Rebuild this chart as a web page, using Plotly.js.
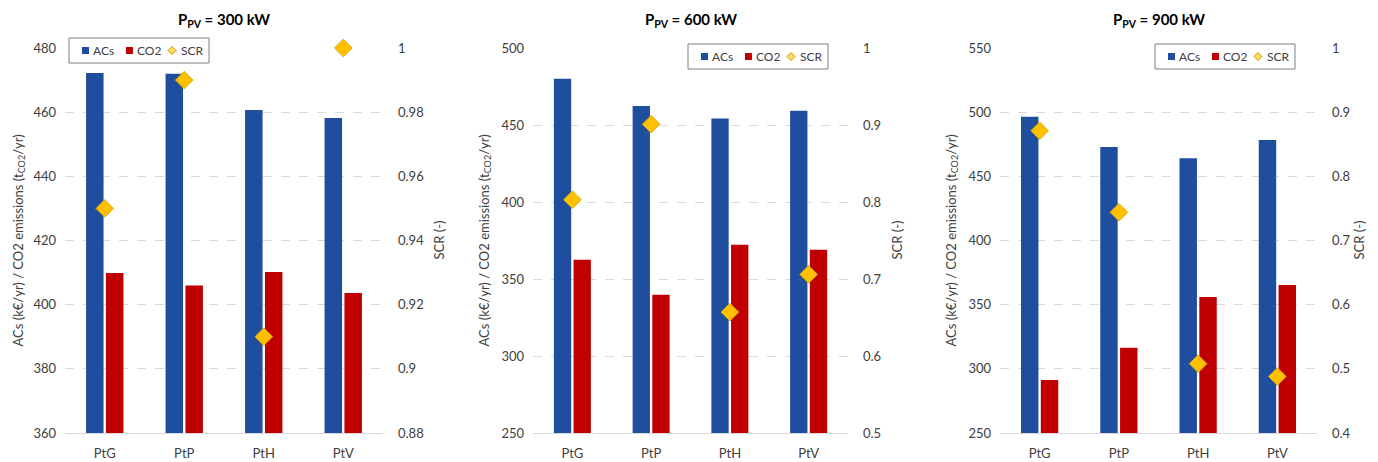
<!DOCTYPE html>
<html>
<head>
<meta charset="utf-8">
<script src="https://cdn.plot.ly/plotly-3.0.1.min.js"></script>
<style>
html,body{margin:0;padding:0;background:#fff;}
#chart{width:1378px;height:462px;}
</style>
</head>
<body>
<div id="chart"></div>
<script>
// ---- data ----
const categories = ["PtG", "PtP", "PtH", "PtV"];
const panelTitles = ["P<sub>PV</sub> = 300 kW", "P<sub>PV</sub> = 600 kW", "P<sub>PV</sub> = 900 kW"];

const acs300 = [472.2, 472.0, 460.7, 458.2];
const co2_300 = [409.9, 406.0, 410.2, 403.6];
const scr300 = [0.950, 0.990, 0.910, 1.000];

const acs600 = [480.0, 462.3, 454.2, 459.3];
const co2_600 = [362.5, 339.8, 372.3, 369.0];
const scr600 = [0.803, 0.901, 0.657, 0.706];

const acs900 = [496.4, 472.8, 464.0, 478.4];
const co2_900 = [291.3, 316.4, 355.9, 365.3];
const scr900 = [0.871, 0.744, 0.508, 0.488];

const leftRanges = [[360, 480], [250, 500], [250, 550]];
const leftDticks = [20, 50, 50];
const rightRanges = [[0.88, 1], [0.5, 1], [0.4, 1]];
const rightDticks = [0.02, 0.1, 0.1];

const legendNames = ["ACs", "CO2", "SCR"];
const leftTitle = "ACs (k€/yr) / CO2 emissions (t<sub>CO2</sub>/yr)";
const rightTitle = "SCR (-)";

// ---- style ----
const W = 1378, H = 462;
const BLUE = "#1F4E9E", RED = "#C00000", GOLD = "#FFC000";
const FONT = "Lato, 'Open Sans', sans-serif";
const TXT = "#404040";
const plotPx = [[65, 383], [533, 848], [1000, 1317]];
const yTop = 48, yBot = 433;
const legendPx = [[69, 38], [688, 44], [1155, 44]];
const legendW = 140, legendH = 25;
const leftTitlePx = [18, 484, 951];
const rightTitlePx = [438, 896, 1358];

const acsAll = [acs300, acs600, acs900];
const co2All = [co2_300, co2_600, co2_900];
const scrAll = [scr300, scr600, scr900];

const data = [];
const layout = {
  width: W, height: H,
  margin: {l: 0, r: 0, t: 0, b: 0},
  paper_bgcolor: "#fff", plot_bgcolor: "rgba(0,0,0,0)",
  font: {family: FONT, size: 13, color: TXT},
  barmode: "group", bargap: 0.5, bargroupgap: 0.12,
  showlegend: false,
  annotations: [], shapes: []
};
const yd = [(H - yBot) / H, (H - yTop) / H];
const px = v => v / W;
const py = v => (H - v) / H;

for (let i = 0; i < 3; i++) {
  const n = i === 0 ? "" : String(i + 1);
  const xa = "x" + n;
  const yl = "y" + (i === 0 ? "" : String(2 * i + 1));
  const yr = "y" + String(2 * i + 2);
  data.push({type: "bar", x: categories, y: acsAll[i], name: legendNames[0], xaxis: xa, yaxis: yl,
    marker: {color: BLUE}, offsetgroup: "a"});
  data.push({type: "bar", x: categories, y: co2All[i], name: legendNames[1], xaxis: xa, yaxis: yl,
    marker: {color: RED}, offsetgroup: "b"});
  data.push({type: "scatter", mode: "markers", x: categories, y: scrAll[i], name: legendNames[2],
    xaxis: xa, yaxis: yr, cliponaxis: false,
    marker: {symbol: "diamond", size: 13.5, color: GOLD, line: {color: "#E0A800", width: 1}}});

  const xd = [plotPx[i][0] / W, plotPx[i][1] / W];
  layout["xaxis" + n] = {domain: xd, anchor: yl, showgrid: false, showline: true,
    linecolor: "#D9D9D9", linewidth: 1, ticks: "", ticklabelstandoff: 8,
    tickfont: {size: 13, color: TXT}, fixedrange: true};
  layout["yaxis" + (i === 0 ? "" : String(2 * i + 1))] = {
    domain: yd, anchor: xa, range: leftRanges[i], dtick: leftDticks[i], tick0: leftRanges[i][0],
    showgrid: true, gridcolor: "#D9D9D9", griddash: "dash", gridwidth: 1,
    zeroline: false, showline: false, ticks: "", ticklabelstandoff: 8,
    tickfont: {size: 13, color: TXT}};
  layout["yaxis" + String(2 * i + 2)] = {
    domain: yd, anchor: xa, overlaying: yl, side: "right",
    range: rightRanges[i], dtick: rightDticks[i], tick0: rightRanges[i][0],
    showgrid: false, zeroline: false, showline: false, ticks: "", ticklabelstandoff: 14,
    tickfont: {size: 13, color: TXT}};

  // custom legend box
  const lx = legendPx[i][0], ly = legendPx[i][1];
  const cy = ly + legendH / 2;
  layout.shapes.push({type: "rect", xref: "paper", yref: "paper",
    x0: px(lx), x1: px(lx + legendW), y0: py(ly + legendH), y1: py(ly),
    fillcolor: "#fff", line: {color: "#7F7F7F", width: 1}, layer: "above"});
  const sqOff = [13, 57], txtOff = [22, 66, 110];
  [BLUE, RED].forEach((c, k) => {
    layout.shapes.push({type: "rect", xref: "paper", yref: "paper",
      x0: px(lx + sqOff[k]), x1: px(lx + sqOff[k] + 7), y0: py(cy + 3.5), y1: py(cy - 3.5),
      fillcolor: c, line: {width: 0}, layer: "above"});
  });
  const dx = lx + 103, d = 4;
  layout.shapes.push({type: "path", xref: "paper", yref: "paper",
    path: `M ${px(dx - d)} ${py(cy)} L ${px(dx)} ${py(cy - d)} L ${px(dx + d)} ${py(cy)} L ${px(dx)} ${py(cy + d)} Z`,
    fillcolor: "#FFD966", line: {color: "#C9A000", width: 1}, layer: "above"});
  legendNames.forEach((t, k) => {
    layout.annotations.push({text: t, xref: "paper", yref: "paper",
      x: px(lx + txtOff[k]), y: py(cy), xanchor: "left", yanchor: "middle",
      showarrow: false, font: {size: 12, color: TXT}});
  });

  layout.annotations.push({text: "<b>" + panelTitles[i] + "</b>", xref: "paper", yref: "paper",
    x: (xd[0] + xd[1]) / 2, y: py(20), xanchor: "center", yanchor: "middle",
    showarrow: false, font: {size: 15, color: "#000"}});
  layout.annotations.push({text: leftTitle, xref: "paper", yref: "paper",
    x: px(leftTitlePx[i]), y: (yd[0] + yd[1]) / 2, xanchor: "center", yanchor: "middle",
    textangle: -90, showarrow: false, font: {size: 13, color: TXT}});
  layout.annotations.push({text: rightTitle, xref: "paper", yref: "paper",
    x: px(rightTitlePx[i]), y: (yd[0] + yd[1]) / 2, xanchor: "center", yanchor: "middle",
    textangle: -90, showarrow: false, font: {size: 13, color: TXT}});
}

Plotly.newPlot("chart", data, layout, {staticPlot: true});
</script>
</body>
</html>
